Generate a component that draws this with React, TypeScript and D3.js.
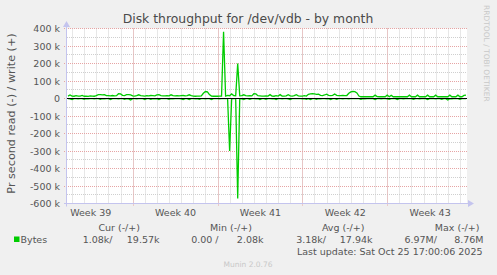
import React from "react";
import * as d3 from "d3";

// Munin "diskstats throughput" month view: read plotted below zero, write above.
const WIDTH = 497;
const HEIGHT = 275;

const titleText = "Disk throughput for /dev/vdb - by month";
const yAxisLabel = "Pr second read (-) / write (+)";
const yTickValues = [400000, 300000, 200000, 100000, 0, -100000, -200000, -300000, -400000, -500000, -600000];
const yMinorValues = [350000, 250000, 150000, 50000, -50000, -150000, -250000, -350000, -450000, -550000];

// Window: 33 days, one sample per 4 hours (6 per day).
const rangeStart = Date.UTC(2025, 8, 23, 13, 0, 0);
const rangeDays = 33;
const sampleHours = 4;

// Bytes written per second (k), one row per day
const writeK = [
  14, 20, 14, 13, 16, 14,
  14, 18, 13, 14, 12, 15,
  14, 13, 16, 22, 22, 21,
  22, 16, 16, 15, 17, 15,
  16, 27, 26, 18, 17, 22,
  22, 21, 15, 14, 16, 21,
  16, 15, 14, 16, 15, 17,
  16, 15, 21, 22, 16, 15,
  15, 16, 15, 21, 16, 15,
  16, 15, 16, 17, 15, 16,
  21, 16, 14, 13, 14, 14,
  15, 30, 40, 38, 22, 14,
  13, 14, 13, 14, 14, 382,
  14, 18, 16, 26, 17, 16,
  200, 15, 16, 21, 16, 15,
  16, 15, 27, 26, 16, 15,
  14, 14, 15, 14, 22, 14,
  13, 16, 14, 22, 14, 14,
  15, 22, 15, 14, 16, 22,
  15, 14, 14, 16, 14, 24,
  26, 27, 26, 24, 25, 18,
  17, 20, 25, 18, 17, 18,
  26, 18, 16, 17, 18, 16,
  17, 30, 38, 40, 39, 32,
  14, 10, 10, 11, 10, 10,
  10, 10, 19, 11, 10, 10,
  10, 10, 19, 10, 18, 10,
  10, 11, 10, 10, 10, 10,
  10, 19, 10, 11, 10, 19,
  10, 10, 10, 10, 19, 10,
  10, 10, 19, 10, 10, 10,
  11, 10, 10, 19, 10, 10,
  10, 19, 10, 10, 18, 19.57,
];

// Bytes read per second (k), drawn as negative values
const readK = [
  1, 2, 6, 1, 1, 2,
  1, 1, 5, 1, 2, 1,
  1, 2, 1, 1, 5, 1,
  2, 1, 1, 6, 1, 1,
  1, 2, 1, 1, 5, 1,
  2, 9, 1, 1, 2, 1,
  1, 1, 6, 1, 1, 5,
  1, 2, 1, 6, 1, 1,
  1, 1, 5, 1, 2, 1,
  1, 1, 2, 6, 1, 1,
  6, 1, 1, 2, 1, 5,
  1, 1, 2, 1, 1, 6,
  1, 1, 1, 2, 1, 1,
  1, 1, 300, 2, 1, 1,
  572, 1, 2, 6, 1, 1,
  5, 1, 1, 2, 1, 6,
  1, 1, 5, 1, 1, 2,
  1, 6, 1, 1, 2, 1,
  1, 2, 6, 1, 1, 1,
  1, 1, 2, 1, 5, 1,
  6, 1, 1, 5, 1, 2,
  1, 1, 2, 1, 6, 1,
  1, 5, 1, 1, 2, 1,
  1, 2, 1, 1, 1, 1,
  1, 5, 1, 2, 1, 1,
  1, 1, 6, 1, 1, 2,
  1, 1, 2, 5, 1, 1,
  1, 6, 1, 1, 2, 1,
  1, 1, 1, 5, 1, 1,
  2, 1, 1, 1, 6, 1,
  1, 1, 2, 1, 1, 5,
  1, 1, 9, 1, 2, 1,
  1, 1, 5, 1, 1, 1.08,
];

const legendHeaders = ["Cur (-/+)", "Min (-/+)", "Avg (-/+)", "Max (-/+)"];
const legendSeries = "Bytes";
const legendValues = ["1.08k/", "19.57k", "0.00 /", "2.08k", "3.18k/", "17.94k", "6.97M/", "8.76M"];
const lastUpdate = "Last update: Sat Oct 25 17:00:06 2025";
const footer = "Munin 2.0.76";
const watermark = "RRDTOOL / TOBI OETIKER";

const FONT = "'DejaVu Sans', sans-serif";
const TEXT = "#555";
const LINE = "#00cc00";
const AXIS = "#c4c4ee";
const MGRID = "#e6a4a4";
const GRID = "#cfcfcf";

const plot = { left: 67, right: 467, top: 28.5, bottom: 203.5 };

const crisp = (v: number) => Math.round(v - 0.5) + 0.5;

export default function App() {
  const rangeEnd = rangeStart + rangeDays * 86400000;
  const x = d3.scaleUtc().domain([new Date(rangeStart), new Date(rangeEnd)]).range([plot.left, plot.right]);
  const y = d3.scaleLinear().domain([-600000, 400000]).range([plot.bottom, plot.top]);

  const sampleTime = (i: number) => new Date(rangeStart + (i + 0.5) * sampleHours * 3600000);

  const writeLine = d3
    .line<number>()
    .x((_, i) => x(sampleTime(i)))
    .y((v) => y(v * 1000))
    .curve(d3.curveLinear);
  const readLine = d3
    .line<number>()
    .x((_, i) => x(sampleTime(i)))
    .y((v) => y(-v * 1000))
    .curve(d3.curveLinear);

  const days = d3.utcDay.range(new Date(rangeStart), new Date(rangeEnd));
  const mondays = d3.utcMonday.range(new Date(rangeStart), new Date(rangeEnd));
  const weekFmt = d3.utcFormat("%V");
  const weekStarts = d3.utcMonday.range(d3.utcMonday.floor(new Date(rangeStart)), new Date(rangeEnd));
  const weekLabels = weekStarts
    .map((m) => ({ m, mid: new Date(m.getTime() + 3.5 * 86400000) }))
    .filter((d) => d.mid.getTime() > rangeStart && d.mid.getTime() < rangeEnd);

  const headerRight = [140, 252, 364.5, 479.5];
  const valueRight = [112.5, 159.5, 218.5, 263.5, 326, 372.5, 437, 483.5];

  const zeroY = crisp(y(0));

  return (
    <svg
      width={WIDTH}
      height={HEIGHT}
      style={{ position: "absolute", left: 0, top: 0, display: "block" }}
      fontFamily={FONT}
    >
      <rect x={0} y={0} width={WIDTH} height={HEIGHT} fill="#f0f0f0" />
      <rect
        x={plot.left}
        y={plot.top}
        width={plot.right - plot.left}
        height={plot.bottom - plot.top}
        fill="#ffffff"
      />

      {/* minor grid */}
      <g stroke={GRID} strokeWidth={1} strokeDasharray="1,1">
        {days.map((d, i) => (
          <line key={"d" + i} x1={crisp(x(d))} x2={crisp(x(d))} y1={plot.top} y2={plot.bottom} />
        ))}
        {yMinorValues.map((v) => (
          <line key={"m" + v} x1={plot.left} x2={plot.right} y1={crisp(y(v))} y2={crisp(y(v))} />
        ))}
      </g>

      {/* major grid */}
      <g stroke={MGRID} strokeWidth={1} strokeDasharray="1,1">
        {mondays.map((d, i) => (
          <line key={"w" + i} x1={crisp(x(d))} x2={crisp(x(d))} y1={plot.top} y2={plot.bottom + 3} />
        ))}
        {yTickValues.map((v) => (
          <line key={"t" + v} x1={plot.left - 3} x2={plot.right} y1={crisp(y(v))} y2={crisp(y(v))} />
        ))}
      </g>

      {/* axes with arrows */}
      <g fill={AXIS} stroke="none">
        <rect x={plot.left - 3} y={crisp(plot.bottom) - 0.5} width={plot.right - plot.left + 6} height={1} />
        <path d={`M${plot.right + 1},${crisp(plot.bottom) - 3.5} L${plot.right + 7},${crisp(plot.bottom)} L${plot.right + 1},${crisp(plot.bottom) + 3.5} Z`} />
        <rect x={plot.left - 1} y={plot.top - 3} width={1} height={plot.bottom - plot.top + 6} />
        <path d={`M${plot.left - 4},${plot.top - 1.5} L${plot.left - 0.5},${plot.top - 7.5} L${plot.left + 3},${plot.top - 1.5} Z`} />
      </g>

      {/* data */}
      <path d={readLine(readK) || ""} fill="none" stroke={LINE} strokeWidth={1.3} strokeLinejoin="miter" />
      <line x1={plot.left} x2={plot.right} y1={zeroY} y2={zeroY} stroke="#000" strokeWidth={1.2} />
      <path d={writeLine(writeK) || ""} fill="none" stroke={LINE} strokeWidth={1.3} strokeLinejoin="miter" />

      {/* title */}
      <text x={248} y={23} textAnchor="middle" fontSize={12.4} fill="#4a4a4a">
        {titleText}
      </text>

      {/* y axis */}
      <text
        transform={`translate(14.5, 113.5) rotate(-90)`}
        textAnchor="middle"
        fontSize={11.2}
        fill={TEXT}
      >
        {yAxisLabel}
      </text>
      {yTickValues.map((v) => (
        <text key={"yl" + v} x={60} y={y(v) + 3.5} textAnchor="end" fontSize={9.5} fill={TEXT}>
          {v === 0 ? "0" : `${v / 1000} k`}
        </text>
      ))}

      {/* x axis */}
      {weekLabels.map((d) => (
        <text key={"wl" + d.m.getTime()} x={x(d.mid)} y={216} textAnchor="middle" fontSize={9.5} fill={TEXT}>
          {`Week ${+weekFmt(d.m)}`}
        </text>
      ))}

      {/* legend */}
      {legendHeaders.map((h, i) => (
        <text key={h} x={headerRight[i]} y={231} textAnchor="end" fontSize={9.5} fill={TEXT}>
          {h}
        </text>
      ))}
      <rect x={14} y={236.5} width={5.5} height={5.5} fill={LINE} />
      <text x={20.5} y={243} fontSize={9.5} fill={TEXT}>
        {legendSeries}
      </text>
      {legendValues.map((v, i) => (
        <text key={"lv" + i} x={valueRight[i]} y={243} textAnchor="end" fontSize={9.5} fill={TEXT} style={{ whiteSpace: "pre" }}>
          {v}
        </text>
      ))}
      <text x={482.5} y={254.5} textAnchor="end" fontSize={9.5} fill={TEXT}>
        {lastUpdate}
      </text>

      <text x={248} y={267} textAnchor="middle" fontSize={7.5} fill="#c8c8c8">
        {footer}
      </text>
      <text transform="translate(484, 5) rotate(90)" fontSize={7.5} fill="#c8c8c8">
        {watermark}
      </text>
    </svg>
  );
}
